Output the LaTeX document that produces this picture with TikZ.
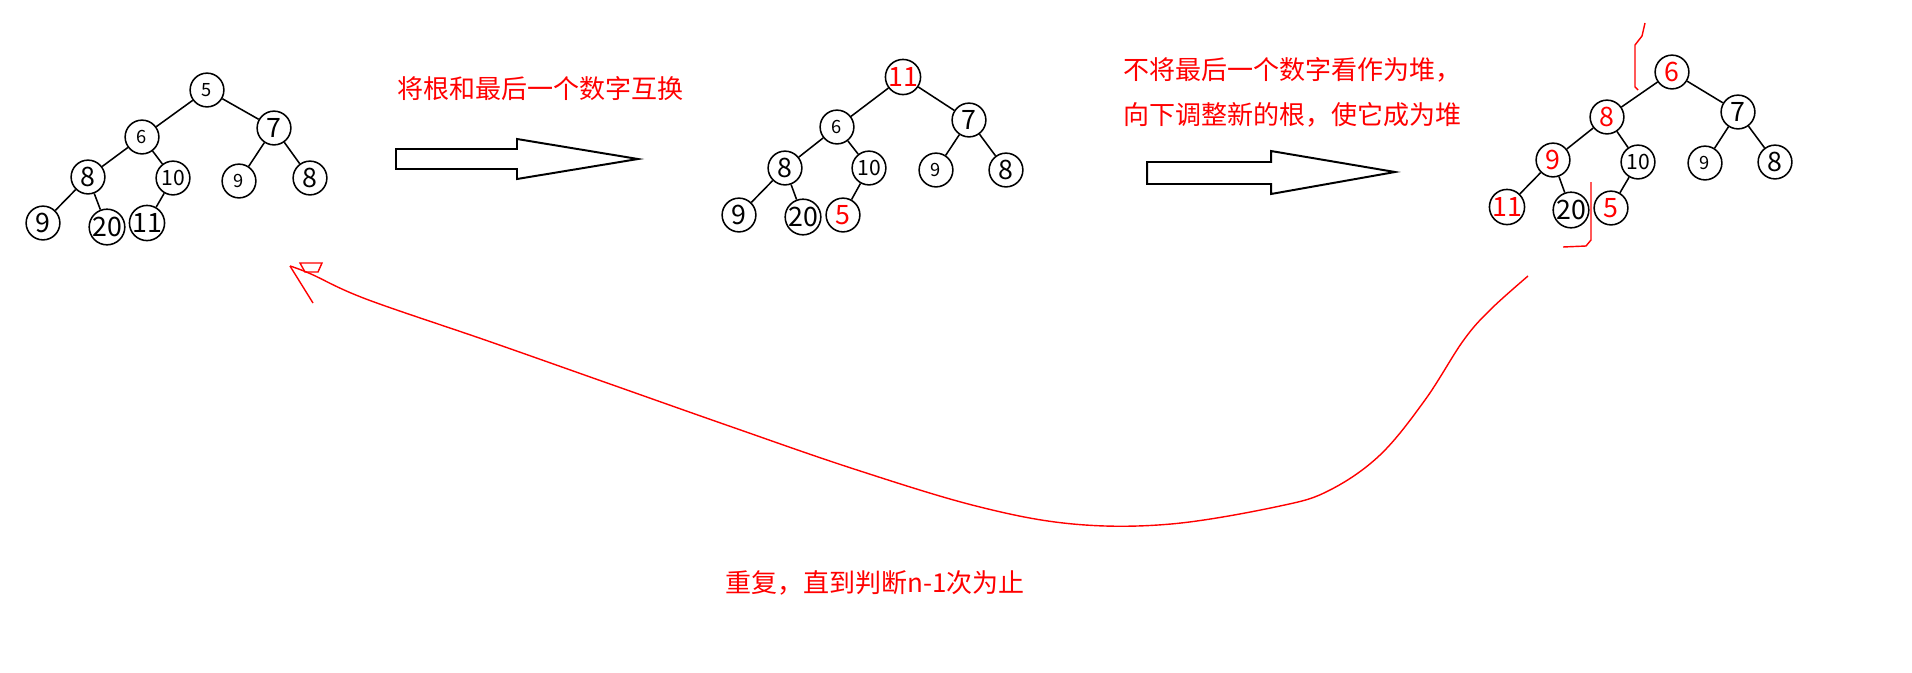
\documentclass[tikz,border=0pt]{standalone}
\usepackage{fontspec}
\setmainfont{Noto Sans CJK SC}
\usepackage{tikz}
\usetikzlibrary{positioning, calc}

\begin{document}
\begin{tikzpicture}[x=0.025cm, y=-0.025cm,
    vtx/.style={circle, draw, line width=1.1pt, minimum size=24pt, inner sep=0pt,
      font=\fontsize{19pt}{19pt}\selectfont},
    sm/.style={font=\fontsize{13pt}{13pt}\selectfont},
    md/.style={font=\fontsize{15pt}{15pt}\selectfont},
    hot/.style={text=red},
    note/.style={anchor=west, text=red, inner sep=0pt, font=\fontsize{18.5pt}{22pt}\selectfont},
    bigarrow/.style={draw, line width=1.4pt, fill=white},
    edge/.style={line width=1.1pt},
    pen/.style={red, line width=1pt}]
  \useasboundingbox (0,0) rectangle (1912,672);

  % first heap
  \node[vtx, sm] (a1) at (207,90) {5};
  \node[vtx, sm] (a2) at (142,137) {6};
  \node[vtx] (a3) at (274,128) {7};
  \node[vtx] (a4) at (88,177) {8};
  \node[vtx, md] (a5) at (173,178) {10};
  \node[vtx, sm] (a6) at (239,181) {9};
  \node[vtx] (a7) at (310,178) {8};
  \node[vtx] (a8) at (43,223) {9};
  \node[vtx] (a9) at (107,227) {20};
  \node[vtx] (a10) at (147,223) {11};

  % second heap
  \node[vtx, hot] (b1) at (903,77) {11};
  \node[vtx, sm] (b2) at (837,127) {6};
  \node[vtx] (b3) at (969,120) {7};
  \node[vtx] (b4) at (785,168) {8};
  \node[vtx, md] (b5) at (869,168) {10};
  \node[vtx, sm] (b6) at (936,170) {9};
  \node[vtx] (b7) at (1006,170) {8};
  \node[vtx] (b8) at (739,215) {9};
  \node[vtx] (b9) at (803,217) {20};
  \node[vtx, hot] (b10) at (843,215) {5};

  % third heap
  \node[vtx, hot] (c1) at (1672,72) {6};
  \node[vtx, hot] (c2) at (1607,117) {8};
  \node[vtx] (c3) at (1738,112) {7};
  \node[vtx, hot] (c4) at (1553,160) {9};
  \node[vtx, md] (c5) at (1638,162) {10};
  \node[vtx, sm] (c6) at (1705,163) {9};
  \node[vtx] (c7) at (1775,162) {8};
  \node[vtx, hot] (c8) at (1507,207) {11};
  \node[vtx] (c9) at (1571,210) {20};
  \node[vtx, hot] (c10) at (1611,208) {5};

  % edges of the heaps
  \draw[edge] (a1) -- (a2) (a1) -- (a3) (a2) -- (a4) (a2) -- (a5) (a3) -- (a6)
    (a3) -- (a7) (a4) -- (a8) (a4) -- (a9) (a5) -- (a10);
  \draw[edge] (b1) -- (b2) (b1) -- (b3) (b2) -- (b4) (b2) -- (b5) (b3) -- (b6)
    (b3) -- (b7) (b4) -- (b8) (b4) -- (b9) (b5) -- (b10);
  \draw[edge] (c1) -- (c2) (c1) -- (c3) (c2) -- (c4) (c2) -- (c5) (c3) -- (c6)
    (c3) -- (c7) (c4) -- (c8) (c4) -- (c9) (c5) -- (c10);

  % hollow arrows
  \draw[bigarrow] (396,149) -- (517,149) -- (517,139) -- (638,159) -- (517,179)
    -- (517,169) -- (396,169) -- cycle;
  \draw[bigarrow] (1147,162) -- (1271,162) -- (1271,151) -- (1395,172) -- (1271,194)
    -- (1271,184) -- (1147,184) -- cycle;

  % notes
  \node[note] (swap) at (397,89) {将根和最后一个数字互换};
  \node[note] (adj1) at (1123,70) {不将最后一个数字看作为堆，};
  \node[note] (adj2) at (1123,115) {向下调整新的根，使它成为堆};
  \node[note] (again) at (725,583) {重复，直到判断n-1次为止};

  % red marks on third heap
  \draw[pen] (1645,23) -- (1642,36) -- (1635,45) -- (1635,87) -- (1638,90);
  \draw[pen] (1591,182) -- (1591,240) -- (1586,246) -- (1563,247);

  % loop back
  \coordinate (loopstart) at (1528,276);
  \coordinate (loopend) at (290,266);
  \draw[pen] plot[smooth, tension=0.6] coordinates {(loopstart) (1490,310) (1463,341)
    (1425,400) (1380,455) (1330,490) (1280,506) (1171,524) (1073,524) (976,506) (854,469)
    (732,427) (610,384) (488,341) (366,299) (311,274) (loopend)};
  \draw[pen] (loopend) -- (313,303);
  \draw[pen] (300,263) -- (322,263) -- (318,272) -- (305,272) -- cycle;
\end{tikzpicture}
\end{document}
